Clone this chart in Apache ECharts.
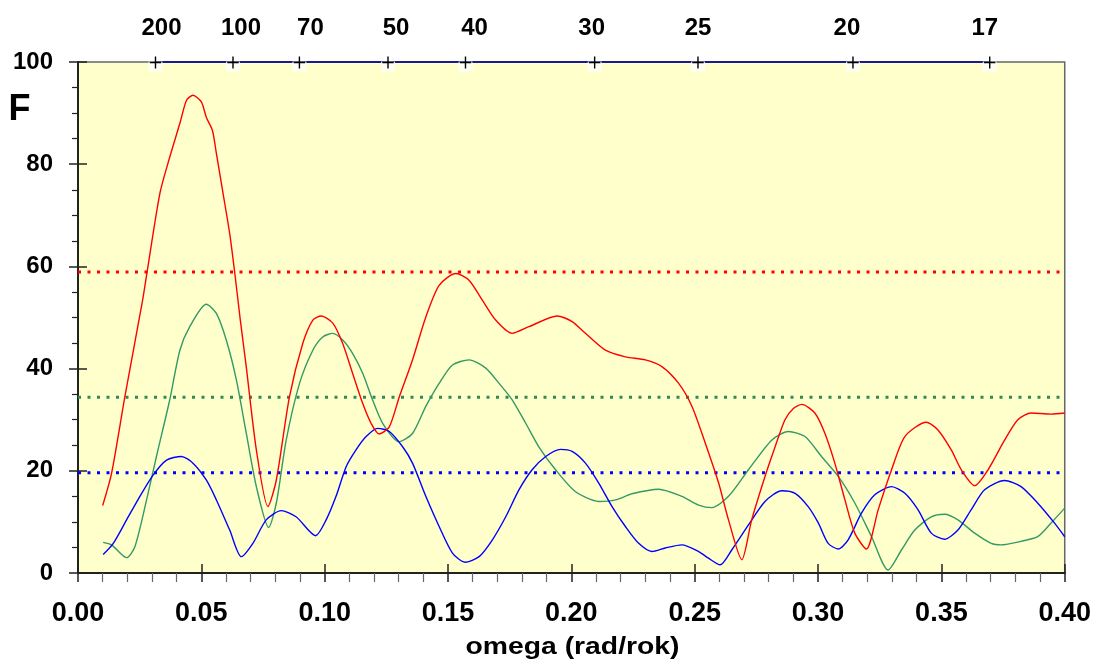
<!DOCTYPE html>
<html>
<head>
<meta charset="utf-8">
<script src="https://cdn.jsdelivr.net/npm/echarts@6/dist/echarts.min.js"></script>
<style>html,body{margin:0;padding:0;background:#fff}#c{width:1094px;height:659px}</style>
</head>
<body>
<div id="c"></div>
<script>
// ---- data ----
const xTicks = [0, 0.05, 0.10, 0.15, 0.20, 0.25, 0.30, 0.35, 0.40];
const yTicks = [0, 20, 40, 60, 80, 100];
const periods = [200, 100, 70, 50, 40, 30, 25, 20, 17];

const redOmega = [0.010,0.0136,0.019,0.0262,0.028,0.0332,0.0372,0.0413,0.044,0.0466,0.050,0.052,0.0545,0.0561,0.0588,0.0615,0.0635,0.0658,0.0682,0.0723,0.0770,0.0804,0.0857,0.0911,0.0952,0.0986,0.1033,0.1073,0.1113,0.1154,0.1188,0.1221,0.1262,0.1302,0.1356,0.141,0.1464,0.1532,0.1585,0.1639,0.1693,0.176,0.1828,0.1943,0.2003,0.2057,0.2138,0.2219,0.230,0.2367,0.2435,0.2489,0.2543,0.2597,0.2637,0.2691,0.2731,0.2785,0.2826,0.2866,0.290,0.2934,0.2987,0.3028,0.3068,0.3109,0.3149,0.3196,0.3244,0.3298,0.3352,0.3439,0.3486,0.354,0.3581,0.3635,0.3689,0.3756,0.381,0.3864,0.3945,0.400];
const redF = [13.2,19.5,34.5,53.4,58.9,74.3,81.4,88.0,92.5,93.5,92.2,89.2,86.6,82.1,74.3,66.4,58.9,49.5,40.4,24.1,13.0,18.2,34.4,44.9,49.5,50.3,48.9,44.9,39.1,33.2,29.3,27.2,28.6,34.4,41.7,50.1,56.3,58.6,57.3,53.4,49.5,46.9,48.2,50.3,49.2,46.9,43.6,42.3,41.7,40.4,37.1,32.6,25.4,17.6,10.4,2.6,10.4,18.9,24.7,30.0,32.2,33.0,31.3,27.3,21.5,14.3,7.8,4.7,12.4,20.2,26.7,29.5,28.0,24.1,20.2,17.1,20.2,26.0,30.0,31.3,31.1,31.3];

const greenOmega = [0.0102,0.0136,0.0197,0.0231,0.0278,0.0318,0.0372,0.0413,0.0453,0.052,0.0561,0.0601,0.0642,0.0682,0.0723,0.0773,0.0804,0.0844,0.0898,0.0952,0.0992,0.1033,0.1073,0.1113,0.1154,0.1194,0.1235,0.1302,0.1356,0.141,0.1464,0.1518,0.1585,0.1653,0.1707,0.176,0.1815,0.1868,0.1936,0.2017,0.2111,0.2179,0.2246,0.2354,0.2448,0.2516,0.257,0.2637,0.2718,0.2812,0.288,0.2947,0.3014,0.3082,0.3149,0.3217,0.3284,0.3338,0.3392,0.3459,0.3513,0.3567,0.3635,0.3702,0.3742,0.3823,0.389,0.3945,0.400];
const greenF = [6.0,5.5,3.0,5.2,14.3,22.8,33.9,43.6,48.2,52.6,50.8,45.6,37.8,27.4,16.9,8.9,13.7,26.0,37.1,43.6,46.2,46.9,45.6,43.0,39.1,33.9,29.3,25.7,27.3,32.6,37.1,40.7,41.7,40.1,37.1,33.9,29.3,24.7,20.2,15.9,14.0,14.3,15.5,16.4,15.0,13.3,12.8,15.0,20.2,26.0,27.7,26.7,22.8,18.9,13.7,7.1,0.6,4.5,8.4,11.0,11.5,10.4,7.8,5.8,5.5,6.2,7.1,9.8,12.7];

const blueOmega = [0.0102,0.0143,0.0197,0.0251,0.0305,0.0359,0.0419,0.0466,0.052,0.0561,0.0615,0.0662,0.0709,0.0763,0.0824,0.0884,0.0963,0.1006,0.1046,0.1087,0.1127,0.1168,0.1215,0.1262,0.1316,0.1356,0.141,0.1464,0.1518,0.1569,0.1626,0.168,0.1734,0.1788,0.1841,0.1896,0.1956,0.2003,0.2057,0.2111,0.2165,0.2219,0.2273,0.2327,0.2381,0.2448,0.2516,0.2556,0.2603,0.265,0.2718,0.2785,0.2853,0.2907,0.296,0.3001,0.3041,0.3082,0.3122,0.3176,0.323,0.3298,0.3352,0.3405,0.3459,0.3513,0.3567,0.3621,0.3675,0.3756,0.3823,0.389,0.3958,0.400];
const blueF = [3.6,5.8,10.4,15.0,19.2,22.1,22.8,21.5,18.2,14.3,8.4,3.2,5.8,10.4,12.2,11.0,7.3,10.4,15.0,20.8,24.1,26.7,28.3,27.7,24.7,21.5,15.0,9.1,3.9,2.1,3.2,6.5,11.0,16.3,20.2,22.8,24.2,23.8,21.5,17.6,13.0,9.1,5.8,4.2,4.9,5.5,4.2,2.9,1.6,4.5,9.4,14.0,16.1,15.6,13.0,9.8,5.8,4.7,6.5,11.7,15.3,16.9,15.6,12.4,7.8,6.6,8.4,12.4,16.3,18.1,16.9,13.7,9.8,7.1];

const redLevel = 58.9;
const greenLevel = 34.4;
const blueLevel = 19.6;

// ---- build (styling below) ----
const FONT = 'Liberation Sans, Arial, sans-serif';
const topLabelNudge = [6, 8, 11, 8, 9, -3, 0, -6, -5]; // style: horizontal label shifts
const zip = (xs, ys) => xs.map((x, i) => [x, ys[i]]);
const yTop = yTicks[yTicks.length - 1];
const topPts = periods.map((p, i) => ({
  value: [2 * Math.PI / p, yTop], period: p,
  label: { offset: [topLabelNudge[i], 0] }
}));
const xMin = xTicks[0], xMax = xTicks[xTicks.length - 1], xStep = xTicks[1] - xTicks[0];
const yMin = yTicks[0], yMax = yTop, yStep = yTicks[1] - yTicks[0];

function level(v, color) {
  return {
    type: 'line', data: [[xMin, v], [xMax, v]], symbol: 'none', silent: true, z: 2,
    lineStyle: { color: color, width: 3, type: [3, 6.5] }
  };
}
function curve(xs, ys, color) {
  return {
    type: 'line', data: zip(xs, ys), symbol: 'none', smooth: 0.25, z: 3,
    lineStyle: { color: color, width: 1.4 }
  };
}

const chart = echarts.init(document.getElementById('c'), null, { renderer: 'canvas' });
chart.setOption({
  animation: false,
  backgroundColor: '#ffffff',
  grid: { left: 78, right: 27, top: 62, bottom: 86, show: true, backgroundColor: '#FFFFCC', borderColor: '#666', borderWidth: 1.5 },
  xAxis: [{
    type: 'value', min: xMin, max: xMax, interval: xStep,
    axisLine: { onZero: false, lineStyle: { color: '#222', width: 2 } },
    axisTick: { show: true, length: 9, lineStyle: { color: '#222', width: 1.5 } },
    minorTick: { show: true, splitNumber: 5, length: 9, lineStyle: { color: '#666', width: 1.2 } },
    splitLine: { show: false },
    axisLabel: { margin: 27, fontSize: 27, fontWeight: 'bold', color: '#000', fontFamily: FONT, formatter: v => v.toFixed(2) }
  }, {
    type: 'value', min: xMin, max: xMax, interval: xStep, position: 'bottom',
    axisLine: { show: false }, axisLabel: { show: false }, splitLine: { show: false },
    axisTick: { show: true, inside: true, length: 9, lineStyle: { color: '#222', width: 1.5 } }
  }],
  yAxis: [{
    type: 'value', min: yMin, max: yMax, interval: yStep,
    axisLine: { show: true, lineStyle: { color: '#222', width: 2 } },
    axisTick: { show: true, length: 9, lineStyle: { color: '#222', width: 1.5 } },
    minorTick: { show: true, splitNumber: 4, length: 6, lineStyle: { color: '#222', width: 1.2 } },
    splitLine: { show: false },
    axisLabel: { margin: 25, fontSize: 24, fontWeight: 'bold', color: '#000', fontFamily: FONT }
  }, {
    type: 'value', min: yMin, max: yMax, interval: yStep, position: 'left',
    axisLine: { show: false }, axisLabel: { show: false }, splitLine: { show: false },
    axisTick: { show: true, inside: true, length: 9, lineStyle: { color: '#222', width: 1.5 } }
  }],
  graphic: [
    { type: 'text', x: 8.5, y: 92, style: { x: 0, y: 0, text: 'F', font: 'bold 36px ' + FONT, fill: '#000', verticalAlign: 'top' } },
    { type: 'text', x: 572.5, y: 647, scaleX: 1.18, style: { x: 0, y: 0, text: 'omega (rad/rok)', font: 'bold 24px ' + FONT, fill: '#000', align: 'center', verticalAlign: 'middle' } }
  ],
  series: [
    level(redLevel, '#FF0000'),
    level(greenLevel, '#2E8B57'),
    level(blueLevel, '#0000FF'),
    curve(greenOmega, greenF, '#339966'),
    curve(blueOmega, blueF, '#0000FF'),
    curve(redOmega, redF, '#FF0000'),
    {
      type: 'line', data: topPts.map(d => d.value), symbol: 'none', clip: false, z: 6, silent: true,
      lineStyle: { color: '#1a1a8c', width: 2 }
    },
    {
      type: 'scatter', data: topPts.map(d => d.value), clip: false, z: 7, silent: true,
      symbol: 'rect', symbolSize: [14, 10], symbolOffset: [0, 4.5],
      itemStyle: { color: '#ffffff' }
    },
    {
      type: 'scatter', data: topPts, clip: false, z: 8, silent: true,
      symbol: 'path://M5,0h1.4v12h-1.4z M0,5.3h11.4v1.4h-11.4z', symbolSize: [11.4, 12], symbolOffset: [0, 0.5],
      itemStyle: { color: '#000', opacity: 1 },
      label: { show: true, position: 'top', distance: 16, fontSize: 24, fontWeight: 'bold', color: '#000', fontFamily: FONT,
        formatter: p => String(p.data.period) }
    }
  ]
});
</script>
</body>
</html>
